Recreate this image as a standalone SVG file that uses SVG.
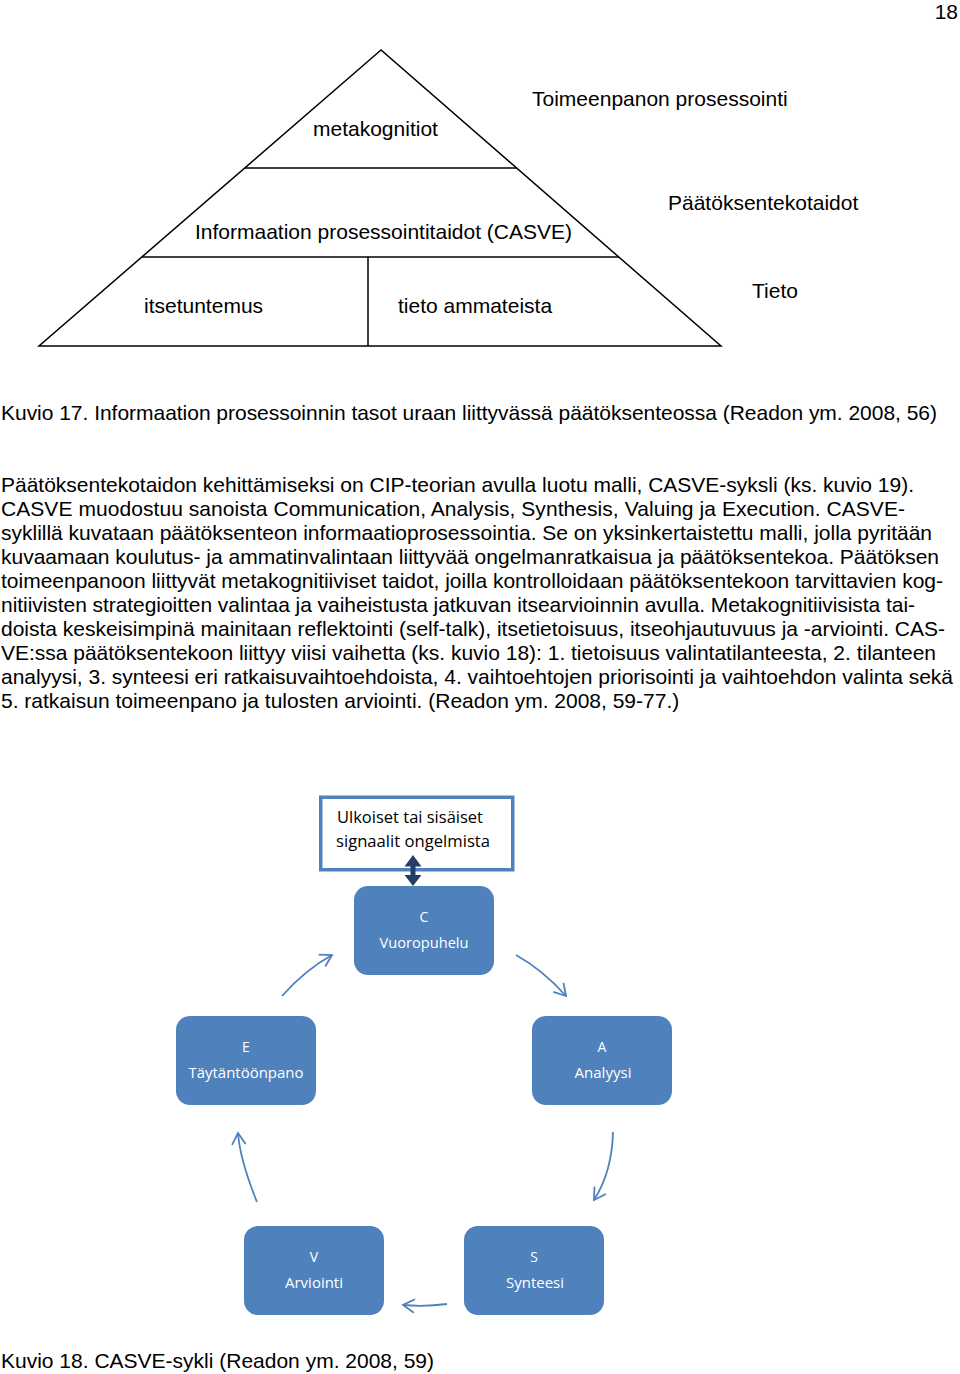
<svg xmlns="http://www.w3.org/2000/svg" width="960" height="1374" viewBox="0 0 960 1374">
<style>
  .t { font-family: "Liberation Sans", Arial, sans-serif; font-size: 21px; fill: #000; }
  .c { font-family: "Open Sans", "Liberation Sans", sans-serif; fill: #000; }
  .n { font-family: "Open Sans", "Liberation Sans", sans-serif; font-size: 14px; fill: #fff; text-anchor: middle; }
  .tri { fill: none; stroke: #000; stroke-width: 1.5; }
  .node { fill: #4f81bd; }
  .arr { fill: none; stroke: #4f81bd; stroke-width: 1.8; marker-end: url(#head); }
</style>
<defs>
  <marker id="head" markerUnits="userSpaceOnUse" markerWidth="30" markerHeight="30" viewBox="-15 -15 30 30" refX="0" refY="0" orient="auto">
    <path d="M-11.5,-6.8 L0,0 L-11.5,6.8" fill="none" stroke="#4f81bd" stroke-width="1.8"/>
  </marker>
</defs>
<rect width="960" height="1374" fill="#fff"/>

<text class="t" x="958" y="19" text-anchor="end">18</text>

<g id="pyramid">
  <polygon class="tri" points="381,50 39,346 721,346"/>
  <line class="tri" x1="245" y1="168" x2="517" y2="168"/>
  <line class="tri" x1="142" y1="257" x2="619" y2="257"/>
  <line class="tri" x1="368" y1="257" x2="368" y2="346"/>
  <text class="t" x="313" y="136">metakognitiot</text>
  <text class="t" x="195" y="239">Informaation prosessointitaidot (CASVE)</text>
  <text class="t" x="144" y="313">itsetuntemus</text>
  <text class="t" x="398" y="313">tieto ammateista</text>
  <text class="t" x="532" y="106">Toimeenpanon prosessointi</text>
  <text class="t" x="668" y="210">Päätöksentekotaidot</text>
  <text class="t" x="752" y="298">Tieto</text>
</g>

<text class="t" x="1" y="420" textLength="936" lengthAdjust="spacing">Kuvio 17. Informaation prosessoinnin tasot uraan liittyvässä päätöksenteossa (Readon ym. 2008, 56)</text>

<g id="paragraph">
  <text class="t" x="1" y="492" textLength="913" lengthAdjust="spacing">Päätöksentekotaidon kehittämiseksi on CIP-teorian avulla luotu malli, CASVE-syksli (ks. kuvio 19).</text>
  <text class="t" x="1" y="516" textLength="904" lengthAdjust="spacing">CASVE muodostuu sanoista Communication, Analysis, Synthesis, Valuing ja Execution.  CASVE-</text>
  <text class="t" x="1" y="540" textLength="931" lengthAdjust="spacing">syklillä kuvataan päätöksenteon informaatioprosessointia. Se on yksinkertaistettu malli, jolla pyritään</text>
  <text class="t" x="1" y="564" textLength="938" lengthAdjust="spacing">kuvaamaan koulutus- ja ammatinvalintaan liittyvää ongelmanratkaisua ja päätöksentekoa. Päätöksen</text>
  <text class="t" x="1" y="588" textLength="942" lengthAdjust="spacing">toimeenpanoon liittyvät metakognitiiviset taidot, joilla kontrolloidaan päätöksentekoon tarvittavien kog-</text>
  <text class="t" x="1" y="612" textLength="914" lengthAdjust="spacing">nitiivisten strategioitten valintaa ja vaiheistusta jatkuvan itsearvioinnin avulla. Metakognitiivisista tai-</text>
  <text class="t" x="1" y="636" textLength="944" lengthAdjust="spacing">doista keskeisimpinä mainitaan reflektointi (self-talk), itsetietoisuus, itseohjautuvuus ja -arviointi. CAS-</text>
  <text class="t" x="1" y="660" textLength="935" lengthAdjust="spacing">VE:ssa päätöksentekoon liittyy viisi vaihetta (ks. kuvio 18): 1. tietoisuus valintatilanteesta, 2. tilanteen</text>
  <text class="t" x="1" y="684" textLength="952" lengthAdjust="spacing">analyysi, 3. synteesi eri ratkaisuvaihtoehdoista, 4. vaihtoehtojen priorisointi ja vaihtoehdon valinta sekä</text>
  <text class="t" x="1" y="708">5. ratkaisun toimeenpano ja tulosten arviointi. (Readon ym. 2008, 59-77.)</text>
</g>

<g id="signals">
  <rect x="320.75" y="797.25" width="192" height="72.5" fill="#fff" stroke="#4f81bd" stroke-width="3.5"/>
  <text class="c" x="337" y="823" font-size="16.5" textLength="146" lengthAdjust="spacingAndGlyphs">Ulkoiset tai sisäiset</text>
  <text class="c" x="336" y="847" font-size="16.5" textLength="154" lengthAdjust="spacingAndGlyphs">signaalit ongelmista</text>
</g>

<g id="connectors">
  <polygon points="413,855 421.5,866.5 415.5,866.5 415.5,875 421.5,875 413,886 404.5,875 410.5,875 410.5,866.5 404.5,866.5" fill="#243f66"/>
  <path class="arr" d="M282,996 Q305,970 332,955"/>
  <path class="arr" d="M516,955 Q543,970 566,996"/>
  <path class="arr" d="M613,1132 Q612,1172 594,1200"/>
  <path class="arr" d="M447,1304 Q425,1307 403,1305"/>
  <path class="arr" d="M257,1202 Q240,1160 238,1133"/>
</g>

<g id="nodeC">
  <rect class="node" x="354" y="886" width="140" height="89" rx="14"/>
  <text class="n" x="424" y="922">C</text>
  <text class="n" x="424" y="948" textLength="89" lengthAdjust="spacingAndGlyphs">Vuoropuhelu</text>
</g>
<g id="nodeA">
  <rect class="node" x="532" y="1016" width="140" height="89" rx="14"/>
  <text class="n" x="602" y="1052">A</text>
  <text class="n" x="603" y="1078" textLength="57" lengthAdjust="spacingAndGlyphs">Analyysi</text>
</g>
<g id="nodeS">
  <rect class="node" x="464" y="1226" width="140" height="89" rx="14"/>
  <text class="n" x="534" y="1262">S</text>
  <text class="n" x="535" y="1288" textLength="58" lengthAdjust="spacingAndGlyphs">Synteesi</text>
</g>
<g id="nodeV">
  <rect class="node" x="244" y="1226" width="140" height="89" rx="14"/>
  <text class="n" x="314" y="1262">V</text>
  <text class="n" x="314" y="1288" textLength="58" lengthAdjust="spacingAndGlyphs">Arviointi</text>
</g>
<g id="nodeE">
  <rect class="node" x="176" y="1016" width="140" height="89" rx="14"/>
  <text class="n" x="246" y="1052">E</text>
  <text class="n" x="246" y="1078" textLength="115" lengthAdjust="spacingAndGlyphs">Täytäntöönpano</text>
</g>

<text class="t" x="1" y="1368">Kuvio 18. CASVE-sykli (Readon ym. 2008, 59)</text>
</svg>
